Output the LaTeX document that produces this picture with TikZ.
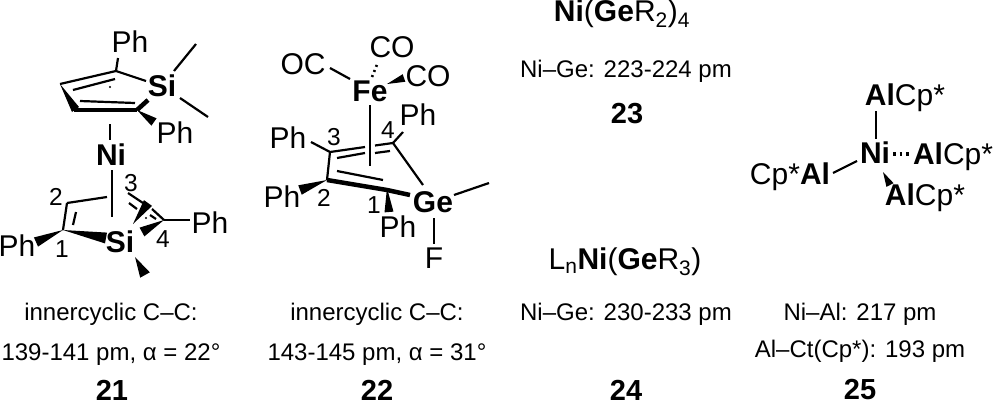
\documentclass[tikz,border=0pt]{standalone}
\usepackage{fontspec}
\setmainfont{Liberation Sans}
\usetikzlibrary{calc}
\newcommand{\wdg}[3]{\fill (#1) -- ($(#2)!#3!90:(#1)$) -- ($(#2)!#3!-90:(#1)$) -- cycle;}
\tikzset{
 atom/.style={inner sep=0pt,font=\fontsize{30}{30}\selectfont},
 batom/.style={inner sep=0pt,font=\fontsize{30}{30}\selectfont\bfseries},
 num/.style={inner sep=0pt,font=\fontsize{24.5}{24.5}\selectfont},
 captxt/.style={inner sep=0pt,font=\fontsize{24}{24}\selectfont},
 lab/.style={inner sep=0pt,font=\fontsize{29}{29}\selectfont\bfseries},
 bnd/.style={line width=2.2pt},
 thick bnd/.style={line width=4.5pt},
}
\begin{document}
\begin{tikzpicture}[x=1pt,y=-1pt,line cap=butt,line join=round]
\useasboundingbox (0,0) rectangle (993,405);
% --- 21 upper ring
\node[atom] (ph1) at (130,42) {Ph};
\node[batom] (si1) at (162,86) {Si};
\node[atom] (ph2) at (175,133) {Ph};
\node[batom] (ni1) at (111,155) {Ni};
\coordinate (a1) at (116,71);
\coordinate (a2) at (60,84);
\coordinate (a3) at (74,110);
\coordinate (a4) at (137,110);
\draw[bnd] (118,58) -- (a1);
\draw[bnd] (a1) -- (146,81);
\draw[bnd] (a1) -- (a2);
\draw[bnd] (73,90) -- (115,79);
\fill (a2) -- (79,107) -- (72,112) -- cycle;
\draw[thick bnd] (a3) -- (a4);
\draw[bnd] (80,101) -- (135,103);
\draw[thick bnd] (a4) -- (148,100);
\wdg{a4}{154,122}{4.5pt}
\draw[bnd] (174,71) -- (196,44);
\draw[bnd] (180,98) -- (208,117);
\fill (110,87) circle (1.2pt);
\draw[bnd] (110,124) -- (110,140);
% --- 21 lower ring
\node[atom] (ph3) at (17,246) {Ph};
\node[batom] (si2) at (120,242) {Si};
\node[atom] (ph4) at (210,223) {Ph};
\node[num] (n1) at (62,249) {1};
\node[num] (n2) at (56,197) {2};
\node[num] (n3) at (131,183) {3};
\node[num] (n4) at (163,239) {4};
\coordinate (b1) at (63,230);
\coordinate (b2) at (67,203);
\coordinate (b3) at (128,193);
\coordinate (b4) at (164,220);
\draw[bnd] (112,170) -- (112,217);
\draw[bnd] (b2) -- (107,197);
\draw[bnd] (b2) -- (b1);
\draw[bnd] (76,212) -- (73,225);
\wdg{b1}{36,242}{5pt}
\wdg{b1}{106,238}{5.5pt}
\draw[bnd] (b3) -- (143,203);
\draw[bnd] (152,209) -- (b4);
\draw[bnd] (129,203) -- (137,209);
\draw[bnd] (150,215) -- (156,219);
\wdg{133,224}{148,203}{5pt}
\wdg{b4}{142,232}{5pt}
\draw[bnd] (b4) -- (190,220);
\wdg{135,257}{145,275}{5.5pt}
\fill (146,218) circle (1.2pt);
% --- 22
\node[atom] (oc) at (303,64) {OC};
\node[atom] (co1) at (392,47) {CO};
\node[atom] (co2) at (428,76) {CO};
\node[batom] (fe) at (370,91) {Fe};
\node[atom] (ph5) at (288,138) {Ph};
\node[atom] (ph6) at (418,115) {Ph};
\node[atom] (ph7) at (282,197) {Ph};
\node[atom] (ph8) at (398,227) {Ph};
\node[batom] (ge) at (433,202) {Ge};
\node[atom] (f) at (434,258) {F};
\node[num] (n5) at (334,137) {3};
\node[num] (n6) at (388,130) {4};
\node[num] (n7) at (324,198) {2};
\node[num] (n8) at (374,205) {1};
\coordinate (c3) at (330,152);
\coordinate (c4) at (393,143);
\coordinate (c2) at (327,180);
\coordinate (c1) at (387,190);
\draw[bnd] (330,68) -- (350,79);
\draw[line width=2.6pt,dash pattern=on 2pt off 3.5pt] (372,77) -- (378,62);
\wdg{387,84}{404,78}{4pt}
\draw[bnd] (370,105) -- (370,166);
\draw[bnd] (311,142) -- (c3);
\draw[bnd] (c3) -- (365,147);
\draw[bnd] (375,145.5) -- (c4);
\draw[bnd] (337,158) -- (365,153);
\draw[bnd] (375,153) -- (390,151);
\draw[bnd] (c4) -- (403,132);
\draw[bnd] (c4) -- (423,185);
\draw[bnd] (c3) -- (c2);
\wdg{c2}{300,190}{5pt}
\draw[thick bnd] (c2) -- (c1) -- (410,195);
\draw[bnd] (337,171) -- (383,180);
\wdg{387,188}{389,212}{4.5pt}
\draw[bnd] (454,195) -- (489,183);
\draw[bnd] (434,218) -- (434,244);
% --- 25
\node[atom] (al2) at (905,98) {\textbf{Al}Cp*};
\node[batom] (ni2) at (875,153) {Ni};
\node[atom] (al3) at (953,157) {\textbf{Al}Cp*};
\node[atom] (al4) at (790,177) {Cp*\textbf{Al}};
\node[atom] (al5) at (925,198) {\textbf{Al}Cp*};
\draw[bnd] (876,111) -- (876,139);
\draw[bnd] (833,173) -- (857,161);
\draw[line width=3.5pt,dash pattern=on 2.5pt off 4pt] (893,154) -- (910,154);
\wdg{883,172}{890,185}{4pt}
% --- texts
\node[atom] (t1) at (622,14) {\textbf{Ni}(\textbf{Ge}R\textsubscript{2})\textsubscript{4}};
\node[captxt] (t2) at (626,71) {Ni–Ge: 223-224 pm};
\node[lab] (t3) at (627,114) {23};
\node[atom] (t4) at (625,262) {L\textsubscript{n}\textbf{Ni}(\textbf{Ge}R\textsubscript{3})};
\node[captxt] (t5) at (626,314) {Ni–Ge: 230-233 pm};
\node[lab] (t6) at (626,390) {24};
\node[captxt] (t7) at (111,314) {innercyclic C–C:};
\node[captxt] (t8) at (111,355) {139-141 pm, α = 22°};
\node[lab] (t9) at (112,390) {21};
\node[captxt] (t10) at (377,314) {innercyclic C–C:};
\node[captxt] (t11) at (377,355) {143-145 pm, α = 31°};
\node[lab] (t12) at (377,390) {22};
\node[captxt] (t13) at (860,314) {Ni–Al: 217 pm};
\node[captxt] (t14) at (860,351) {Al–Ct(Cp*): 193 pm};
\node[lab] (t15) at (860,390) {25};
\end{tikzpicture}
\end{document}
